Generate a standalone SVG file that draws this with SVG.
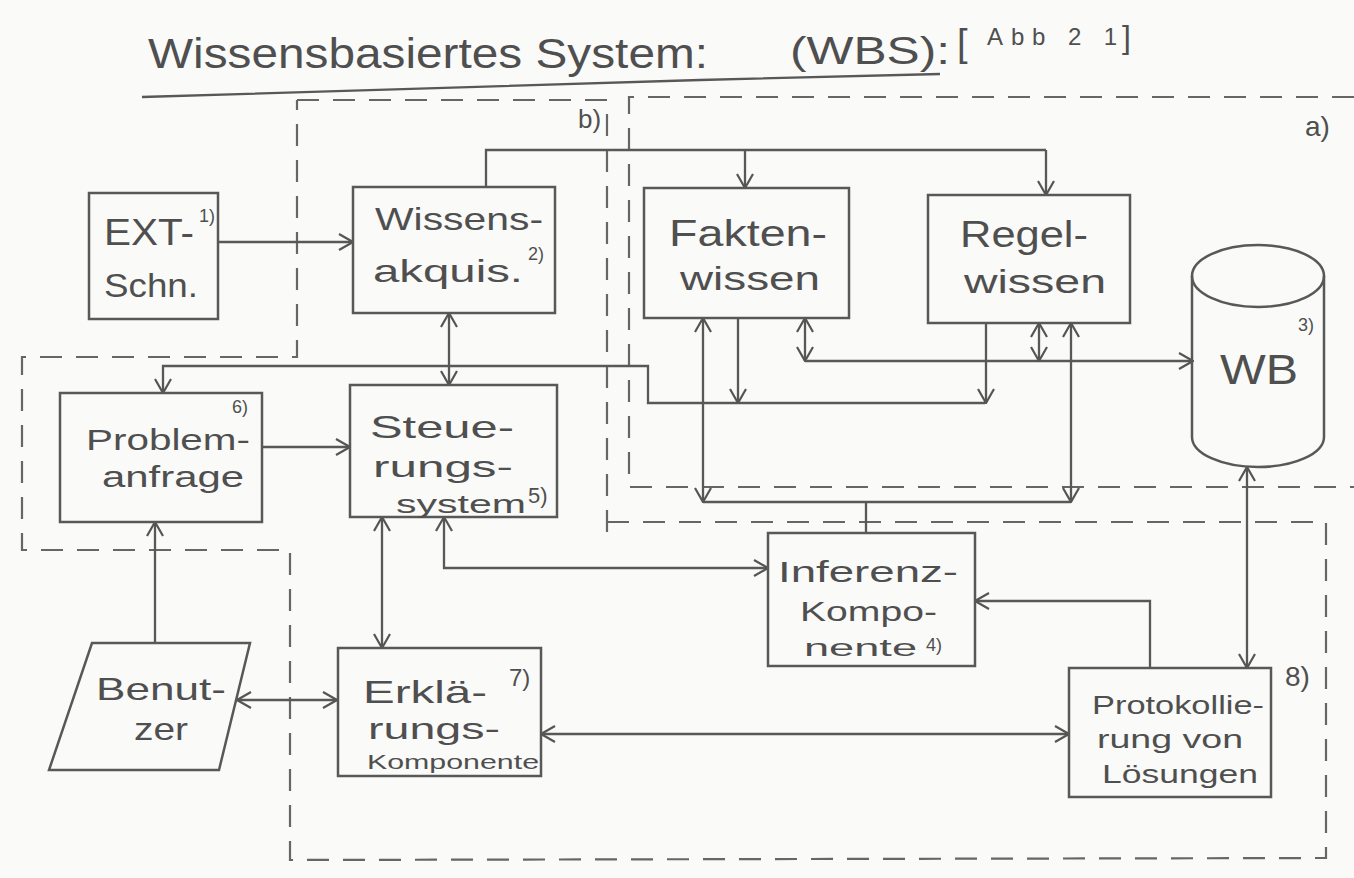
<svg xmlns="http://www.w3.org/2000/svg" width="1354" height="878" viewBox="0 0 1354 878">
<defs>
<marker id="ah" viewBox="0 0 16 18" refX="15" refY="9" markerWidth="16" markerHeight="18" markerUnits="userSpaceOnUse" orient="auto-start-reverse"><path d="M1,1 L15,9 L1,17" fill="none" stroke="#555" stroke-width="2.2"/></marker>
<style>
.bx{fill:none;stroke:#585858;stroke-width:2.5}
.ln{fill:none;stroke:#585858;stroke-width:2.3}
.ds{fill:none;stroke:#666;stroke-width:2.2;stroke-dasharray:22 14}
.t{font-family:"Liberation Sans",Arial,sans-serif;fill:#4f4f4f}
.b{font-size:32px}
.s{font-size:18px}
</style>
</defs>
<rect width="1354" height="878" fill="#fafaf9"/>

<g id="title">
<text class="t" x="148" y="68" font-size="42" textLength="560" lengthAdjust="spacingAndGlyphs">Wissensbasiertes System:</text>
<text class="t" x="790" y="64" font-size="38" textLength="160" lengthAdjust="spacingAndGlyphs">(WBS):</text>
<text class="t" x="957" y="56" font-size="38">[</text>
<text class="t" x="987" y="45" font-size="24" textLength="130" lengthAdjust="spacing">Abb 2 1</text>
<text class="t" x="1122" y="48" font-size="32">]</text>
<path class="ln" d="M142,97 L700,80 L940,74"/>
</g>

<g id="regions">
<path class="ds" d="M1354,97 L629,97 L629,487 L1354,487"/>
<path class="ds" d="M297,100 L607,100 L607,532 M607,522 L1326,522 L1326,858 L290,860 L290,550 L22,550 L22,357 L297,357 L297,100"/>
<text class="t" x="1305" y="136" font-size="28">a)</text>
<text class="t" x="578" y="128" font-size="26">b)</text>
<text class="t" x="1285" y="686" font-size="28">8)</text>
</g>

<g id="connectors">
<path class="ln" marker-end="url(#ah)" d="M218,242 L353,242"/>
<path class="ln" d="M486,187 L486,150 L1046,150"/>
<path class="ln" marker-end="url(#ah)" d="M745,150 L745,188"/>
<path class="ln" marker-end="url(#ah)" d="M1046,150 L1046,195"/>
<path class="ln" marker-start="url(#ah)" marker-end="url(#ah)" d="M449,313 L449,385"/>
<path class="ln" marker-end="url(#ah)" d="M985,403 L648,403 L648,366 L163,366 L163,393"/>
<path class="ln" marker-end="url(#ah)" d="M738,318 L738,403"/>
<path class="ln" marker-end="url(#ah)" d="M986,323 L986,403"/>
<path class="ln" marker-start="url(#ah)" marker-end="url(#ah)" d="M805,318 L805,361"/>
<path class="ln" marker-end="url(#ah)" d="M805,361 L1193,361"/>
<path class="ln" marker-start="url(#ah)" marker-end="url(#ah)" d="M1039,323 L1039,361"/>
<path class="ln" marker-start="url(#ah)" marker-end="url(#ah)" d="M703,318 L703,502"/>
<path class="ln" marker-start="url(#ah)" marker-end="url(#ah)" d="M1071,323 L1071,502"/>
<path class="ln" d="M703,502 L1071,502 M866,502 L866,533"/>
<path class="ln" marker-end="url(#ah)" d="M262,447 L350,447"/>
<path class="ln" marker-end="url(#ah)" d="M155,643 L155,522"/>
<path class="ln" marker-start="url(#ah)" marker-end="url(#ah)" d="M237,700 L337,700"/>
<path class="ln" marker-start="url(#ah)" marker-end="url(#ah)" d="M382,517 L382,648"/>
<path class="ln" marker-start="url(#ah)" marker-end="url(#ah)" d="M444,517 L444,568 L768,568"/>
<path class="ln" marker-end="url(#ah)" d="M1150,668 L1150,601 L975,601"/>
<path class="ln" marker-start="url(#ah)" marker-end="url(#ah)" d="M1247,467 L1247,668"/>
<path class="ln" marker-start="url(#ah)" marker-end="url(#ah)" d="M541,734 L1069,734"/>
</g>

<g id="ext">
<rect class="bx" x="89" y="193" width="129" height="126"/>
<text class="t" x="104" y="245" font-size="36" textLength="90" lengthAdjust="spacingAndGlyphs">EXT-</text>
<text class="t s" x="199" y="222">1)</text>
<text class="t" x="104" y="297" font-size="34" textLength="94" lengthAdjust="spacingAndGlyphs">Schn.</text>
</g>

<g id="wissensakquisition">
<rect class="bx" x="353" y="187" width="202" height="126"/>
<text class="t b" x="375" y="230" textLength="168" lengthAdjust="spacingAndGlyphs">Wissens-</text>
<text class="t b" x="373" y="282" textLength="150" lengthAdjust="spacingAndGlyphs">akquis.</text>
<text class="t s" x="528" y="260">2)</text>
</g>

<g id="faktenwissen">
<rect class="bx" x="644" y="188" width="205" height="130"/>
<text class="t" x="669" y="246" font-size="36" textLength="158" lengthAdjust="spacingAndGlyphs">Fakten-</text>
<text class="t" x="680" y="290" font-size="34" textLength="140" lengthAdjust="spacingAndGlyphs">wissen</text>
</g>

<g id="regelwissen">
<rect class="bx" x="928" y="195" width="202" height="128"/>
<text class="t" x="960" y="247" font-size="36" textLength="128" lengthAdjust="spacingAndGlyphs">Regel-</text>
<text class="t" x="964" y="293" font-size="34" textLength="142" lengthAdjust="spacingAndGlyphs">wissen</text>
</g>

<g id="wb">
<path class="bx" d="M1192,276 L1192,437 A66,30 0 0 0 1324,437 L1324,276"/>
<ellipse class="bx" cx="1258" cy="276" rx="66" ry="31"/>
<text class="t" x="1220" y="384" font-size="42" textLength="78" lengthAdjust="spacingAndGlyphs">WB</text>
<text class="t s" x="1298" y="331">3)</text>
</g>

<g id="problemanfrage">
<rect class="bx" x="60" y="393" width="202" height="129"/>
<text class="t" x="86" y="450" font-size="30" textLength="164" lengthAdjust="spacingAndGlyphs">Problem-</text>
<text class="t" x="102" y="487" font-size="30" textLength="142" lengthAdjust="spacingAndGlyphs">anfrage</text>
<text class="t s" x="232" y="413">6)</text>
</g>

<g id="steuerungssystem">
<rect class="bx" x="350" y="385" width="207" height="132"/>
<text class="t" x="370" y="438" font-size="32" textLength="144" lengthAdjust="spacingAndGlyphs">Steue-</text>
<text class="t" x="373" y="477" font-size="30" textLength="140" lengthAdjust="spacingAndGlyphs">rungs-</text>
<text class="t" x="396" y="513" font-size="25" textLength="130" lengthAdjust="spacingAndGlyphs">system</text>
<text class="t" x="528" y="503" font-size="22">5)</text>
</g>

<g id="benutzer">
<path class="bx" d="M92,643 L250,643 L219,770 L49,770 Z"/>
<text class="t b" x="96" y="700" textLength="130" lengthAdjust="spacingAndGlyphs">Benut-</text>
<text class="t b" x="134" y="740" textLength="54" lengthAdjust="spacingAndGlyphs">zer</text>
</g>

<g id="erklaerung">
<rect class="bx" x="338" y="648" width="203" height="128"/>
<text class="t b" x="363" y="703" textLength="124" lengthAdjust="spacingAndGlyphs">Erklä-</text>
<text class="t" x="509" y="686" font-size="24">7)</text>
<text class="t" x="368" y="739" font-size="30" textLength="132" lengthAdjust="spacingAndGlyphs">rungs-</text>
<text class="t" x="367" y="769" font-size="21" textLength="172" lengthAdjust="spacingAndGlyphs">Komponente</text>
</g>

<g id="inferenz">
<rect class="bx" x="768" y="533" width="207" height="133"/>
<text class="t" x="778" y="582" font-size="30" textLength="180" lengthAdjust="spacingAndGlyphs">Inferenz-</text>
<text class="t" x="800" y="621" font-size="28" textLength="137" lengthAdjust="spacingAndGlyphs">Kompo-</text>
<text class="t" x="804" y="656" font-size="24" textLength="113" lengthAdjust="spacingAndGlyphs">nente</text>
<text class="t" x="926" y="651" font-size="18">4)</text>
</g>

<g id="protokollierung">
<rect class="bx" x="1069" y="668" width="202" height="129"/>
<text class="t" x="1092" y="714" font-size="26" textLength="172" lengthAdjust="spacingAndGlyphs">Protokollie-</text>
<text class="t" x="1097" y="748" font-size="26" textLength="146" lengthAdjust="spacingAndGlyphs">rung von</text>
<text class="t" x="1102" y="783" font-size="26" textLength="156" lengthAdjust="spacingAndGlyphs">Lösungen</text>
</g>
</svg>
